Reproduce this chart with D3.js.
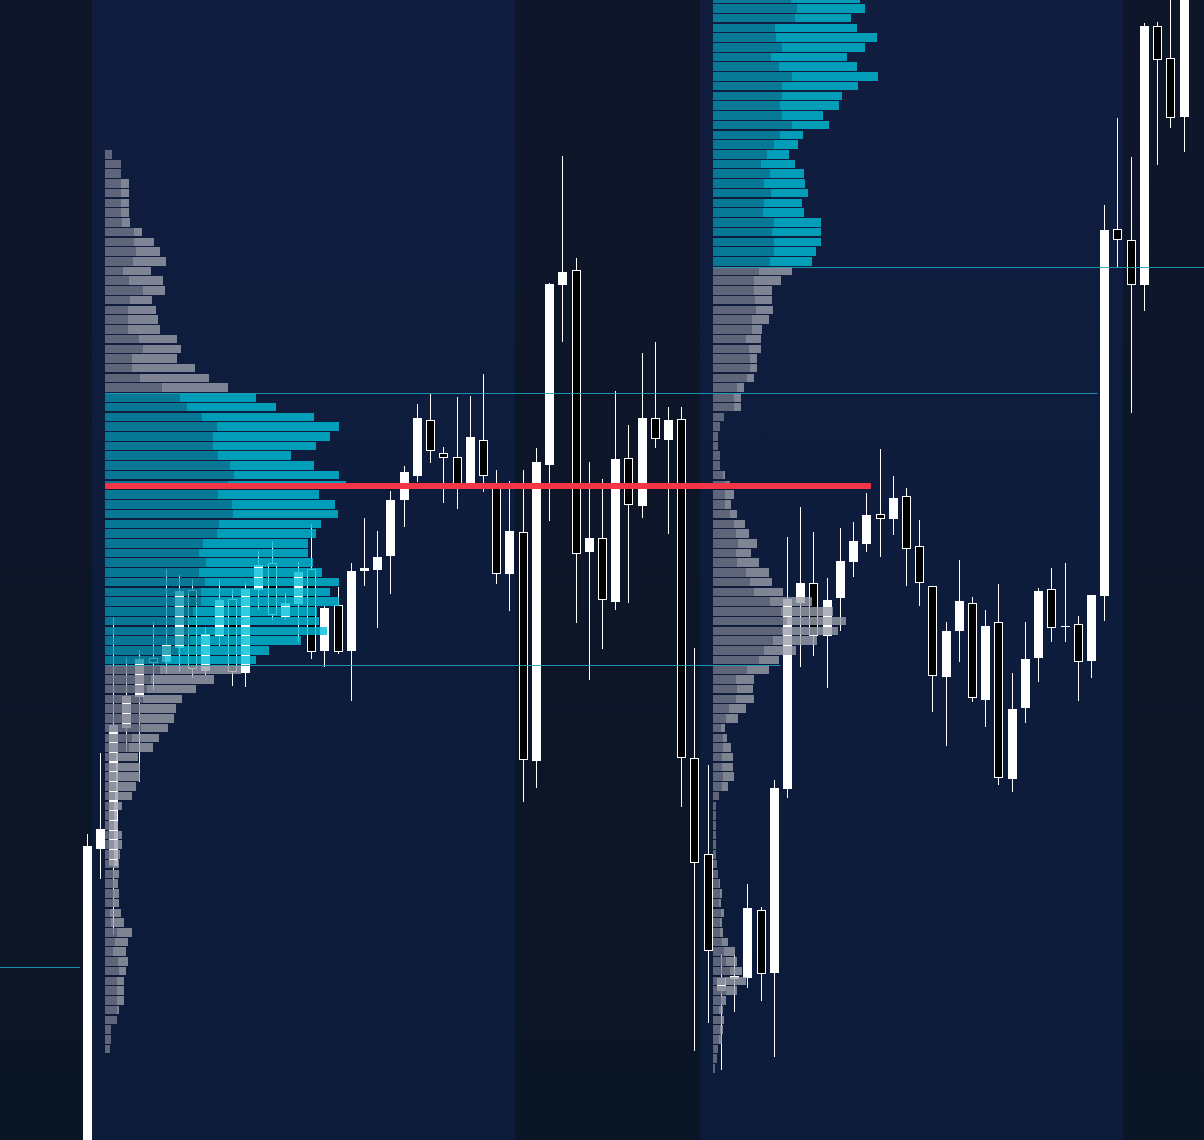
<!DOCTYPE html>
<html><head><meta charset="utf-8">
<script src="https://cdn.jsdelivr.net/npm/d3@7"></script>
<style>html,body{margin:0;padding:0;background:#0d1629;overflow:hidden}svg{display:block}</style>
</head><body><svg id="chart" width="1204" height="1140"></svg>
<script>
// ---------- DATA ----------
const opens = [4395,4472.75,4468.5,4503,4510.75,4520.5,4519.5,4523,4537.5,4517.25,
4526,4535.25,4516.75,4537.5,4544.25,4530.75,4534,4542.75,4522.25,4533.75,
4522.25,4542.25,4542.5,4546,4560,4566,4580,4571.75,4570.75,4564,
4575,4564,4541.5,4552,4494.75,4568.75,4613.75,4617.5,4547,4550.5,
4534.5,4570.5,4558.5,4580.5,4575,4580.25,4495.5,4471.5,4437.25,4440.25,
4440.5,4457.5,4441.75,4487.75,4534.25,4539.25,4526,4535.5,4544.5,4549,
4556.5,4555.25,4561,4548.5,4538.5,4515.75,4527.25,4534.25,4510,4529.5,
4490.25,4508,4520.5,4537.75,4528.5,4529,4519.75,4536,4627.75,4625,
4613.75,4678.5,4670.5,4655.75];
const closes = [4473.5,4477.75,4503.75,4511,4520.25,4519.25,4523.75,4537.25,4517.75,4526.5,
4535,4517,4537.75,4543.75,4531.25,4534.25,4542,4522,4533,4522,
4542.25,4543,4545.75,4560,4567,4580.5,4572.25,4570.5,4563,4575.75,
4566,4541.5,4552.25,4495,4569.5,4614,4617,4546.5,4550.5,4535,
4570.25,4558.75,4580.5,4575.25,4580,4495.5,4469.25,4447.25,4440.5,4441,
4458,4441.5,4488,4535.25,4539.25,4526,4535,4544.75,4549.75,4556.25,
4555.25,4560.5,4547.75,4539.25,4516,4527.25,4534.75,4510.5,4528.5,4490.5,
4507.75,4520.25,4537.25,4528,4528.5,4519.5,4536.25,4627.5,4625,4613.75,
4678.5,4670,4655.5,4690];
const highs = [4476.5,4496.75,4530.75,4520.5,4522.5,4529.5,4542.75,4541.25,4540.25,4528.25,
4540,4537.75,4539.25,4547.25,4549.75,4536.75,4544.5,4554,4533.5,4538.25,
4544.25,4555.5,4552.25,4562.25,4568.5,4584,4586.5,4573.25,4585.75,4586,
4591.5,4567.5,4564.75,4567.5,4573,4614.25,4646,4620.5,4569.5,4565.25,
4587.25,4578.75,4596.75,4599.5,4583.25,4583.25,4523,4493.75,4446.5,4446.25,
4464,4458.25,4490,4550.75,4558.25,4552,4540.5,4553,4554.5,4561.75,
4572.75,4566,4563,4555,4538.5,4529.5,4545,4535.75,4532.5,4539,
4516.75,4529.5,4538,4543,4544.25,4531,4536.25,4633.75,4655.5,4645.75,
4679.25,4679.5,4686.25,4691.25];
const lows = [4392.5,4465.25,4451.25,4497,4489.5,4512.5,4516.5,4517,4515.5,4516.25,
4523.5,4513.5,4513.25,4532.5,4530,4530,4524.25,4520.25,4518.25,4521.5,
4509.75,4538.5,4528,4536.5,4553.25,4564.5,4569.25,4559.25,4557.75,4563.25,
4562,4539,4532.25,4484.5,4488,4554.75,4599.5,4529.25,4515,4522.75,
4532.5,4534.25,4555.5,4573,4551.5,4483.25,4422.25,4429.25,4417.5,4432,
4438,4434.75,4420.75,4485.5,4518.25,4521,4513,4527.25,4540.75,4547,
4545.75,4551.25,4538.5,4533.5,4507,4498.5,4519.5,4509.5,4503.25,4488.75,
4487,4504.25,4514.5,4524.5,4524.5,4509.75,4515.5,4529.75,4618.25,4581.75,
4607.25,4643.75,4653,4647];

// session boundaries (candle index of first bar) and type
const sessionStarts = [-1, 1, 33, 47, 79];
const sessionTypes  = ["eth", "rth", "eth", "rth", "eth"];

// volume profile rows (top row first)
const rowSize = 2.43125;
const leftRowTop = 4647.5;
const leftUpVol = [7,16,16,16,16,16,16,17,29,29,31,28,18,24,38,25,23,23,23,34,38,27,27,35,57,
75,82,97,112,108,108,113,125,129,123,113,127,128,114,112,98,94,101,94,100,96,96,88,84,84,85,73,60,
55,46,42,38,35,35,36,27,24,11,11,11,11,10,9,9,9,9,9,9,9,9,9,9,9,5,6,12,10,8,13,14,12,12,12,12,12,6,6,5];
const leftDownVol = [0,0,0,8,8,8,8,8,8,20,24,33,28,34,22,22,28,30,32,38,38,45,63,69,66,
76,89,112,122,117,103,73,84,105,118,101,103,105,102,99,105,109,107,123,134,129,138,124,130,138,111,91,91,
81,63,49,39,36,34,27,27,24,22,24,24,20,17,8,3,4,8,8,6,5,5,4,5,5,11,13,15,13,13,10,7,7,7,7,2,0,0,0,0];
const leftVAH = 4586.72, leftVAL = 4518.64, leftPOC = 4563.5;

const rightRowTop = 4686.4;
const rightUpVol = [78,84,82,62,63,69,58,66,79,69,69,67,69,79,67,61,
54,48,57,51,58,51,50,61,59,61,61,57,46,41,41,42,43,39,39,33,36,37,37,34,24,21,21,11,7,5,5,7,7,10,
12,12,12,17,21,23,25,23,24,33,37,41,57,68,74,69,60,51,46,34,23,24,23,16,13,8,10,10,9,9,10,9,
6,3,3,3,3,3,3,4,5,6,7,6,8,7,7,9,11,13,17,12,13,9,6,8,7,6,5,4,2];
const rightDownVol = [69,68,56,82,101,83,76,78,86,76,60,59,41,37,23,24,
22,34,34,41,37,38,41,47,49,47,42,42,33,27,18,17,17,17,10,15,12,7,7,7,7,7,7,0,0,0,0,0,0,2,
5,9,6,7,11,13,19,15,22,23,22,29,42,52,59,56,44,32,20,22,18,16,18,17,12,4,4,8,11,11,11,6,
0,0,0,0,0,0,0,0,0,1,2,2,3,2,3,6,11,11,12,21,11,4,4,3,3,3,0,0,0];
const rightVAH = 4700, rightVAL = 4618.33;

// extended levels: price, first candle, candle that ends it (null = chart edge)
const levelPrices = [leftVAH, leftVAL, rightVAL, 4443.25];
const levelStarts = [1, 1, 47, -8];
const levelEnds   = [77, 53, null, 0];

// ---------- SCALES ----------
const W = 1204, H = 1140;
const x = d3.scaleLinear().domain([0, 83]).range([86.5, 1183.5]);
const step = x(1) - x(0);
const y = d3.scaleLinear().domain([4400, 4685]).range([H, 0]);
const vol = d3.scaleLinear().domain([0, d3.max(leftUpVol.map((u, i) => u + leftDownVol[i]))]).range([0, 241]);

const svg = d3.select("#chart");
const defs = svg.append("defs");
function grad(id, c1, c2) {
  const g = defs.append("linearGradient").attr("id", id).attr("x1", 0).attr("y1", 0).attr("x2", 0).attr("y2", 1);
  g.append("stop").attr("offset", "0%").attr("stop-color", c1);
  g.append("stop").attr("offset", "100%").attr("stop-color", c2);
}
grad("rth", "#101d3f", "#0b1b39");
grad("eth", "#0e172a", "#0a1526");

// session backgrounds
const edge = i => x(i - 0.5) - 1;
sessionStarts.forEach((s, k) => {
  const x0 = k === 0 ? 0 : edge(s);
  const x1 = k === sessionStarts.length - 1 ? W : edge(sessionStarts[k + 1]);
  svg.append("rect").attr("x", x0).attr("y", 0).attr("width", x1 - x0).attr("height", H)
    .attr("fill", `url(#${sessionTypes[k]})`);
});

// ---------- CANDLES ----------
const candles = d3.range(opens.length).map(i => ({i, o: opens[i], c: closes[i], h: highs[i], l: lows[i]}));
const gC = svg.append("g").attr("shape-rendering", "crispEdges");
gC.selectAll("line").data(candles).join("line")
  .attr("x1", d => Math.round(x(d.i)) + 0.5).attr("x2", d => Math.round(x(d.i)) + 0.5)
  .attr("y1", d => y(d.h)).attr("y2", d => y(d.l))
  .attr("stroke", "#ffffff").attr("stroke-width", 1);
gC.selectAll("rect").data(candles).join("rect")
  .attr("x", d => d.c >= d.o ? Math.round(x(d.i)) - 4 : Math.round(x(d.i)) - 3.5)
  .attr("width", d => d.c >= d.o ? 9 : 8)
  .attr("y", d => d.c >= d.o ? y(d.c) : y(d.o) + 0.5)
  .attr("height", d => d.c >= d.o ? Math.max(1, y(d.o) - y(d.c)) : Math.max(1, y(d.c) - y(d.o) - 1))
  .attr("fill", d => d.c >= d.o ? "#ffffff" : "#000000")
  .attr("stroke", d => d.c >= d.o ? "none" : "#ffffff").attr("stroke-width", 1);

// ---------- VOLUME PROFILES ----------
const colors = {vaUp: "rgb(5,144,172)", vaDown: "rgb(0,190,215)", up: "rgb(116,120,137)", down: "rgb(156,159,170)"};
function profile(startIdx, rowTop, upV, downV, vah, val) {
  const x0 = x(startIdx + 0.5) - 1;
  const g = svg.append("g").attr("opacity", 0.8).attr("shape-rendering", "crispEdges");
  upV.forEach((u, k) => {
    const top = rowTop - k * rowSize;
    const mid = top - rowSize / 2;
    const inVA = mid <= vah && mid >= val;
    const yy = y(top), hh = y(top - rowSize) - yy - 1.2;
    g.append("rect").attr("x", x0).attr("y", yy).attr("width", vol(u)).attr("height", hh)
      .attr("fill", inVA ? colors.vaUp : colors.up);
    if (downV[k] > 0)
      g.append("rect").attr("x", x0 + vol(u)).attr("y", yy).attr("width", vol(downV[k])).attr("height", hh)
        .attr("fill", inVA ? colors.vaDown : colors.down);
  });
}
profile(1, leftRowTop, leftUpVol, leftDownVol, leftVAH, leftVAL);
profile(47, rightRowTop, rightUpVol, rightDownVol, rightVAH, rightVAL);

// ---------- LEVELS ----------
levelPrices.forEach((p, k) => {
  const x0 = Math.max(0, x(levelStarts[k] + 0.5) - 1);
  const x1 = levelEnds[k] === null ? W : x(levelEnds[k] - 0.5);
  svg.append("line").attr("x1", x0).attr("x2", x1)
    .attr("y1", Math.round(y(p)) + 0.5).attr("y2", Math.round(y(p)) + 0.5)
    .attr("stroke", "#1f9fbb").attr("stroke-opacity", 0.9).attr("stroke-width", 1);
});
// naked POC
svg.append("line").attr("x1", x(1.5) - 1).attr("x2", x(59.5) - 2)
  .attr("y1", y(leftPOC)).attr("y2", y(leftPOC))
  .attr("stroke", "#f23645").attr("stroke-width", 6);
</script></body></html>
